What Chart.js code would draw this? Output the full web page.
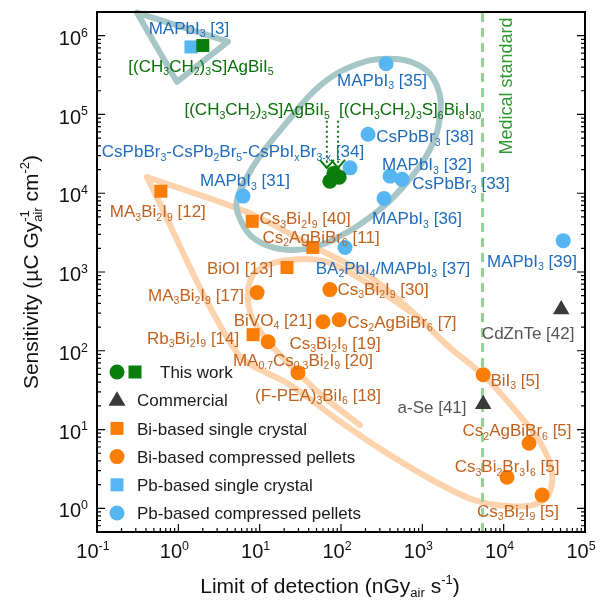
<!DOCTYPE html>
<html>
<head>
<meta charset="utf-8">
<script src="https://cdn.jsdelivr.net/npm/chart.js@4.4.0/dist/chart.umd.min.js"></script>
<style>
  body { margin: 0; background: #fff; }
  #chart { display: block; }
</style>
</head>
<body>
<canvas id="chart" width="603" height="613"></canvas>
<script>
// x = limit of detection (nGy_air s^-1), y = sensitivity (uC Gy_air^-1 cm^-2)
const thisWorkPellets = [[73, 1.42e4], [95, 1.6e4], [82, 1.8e4]];
const thisWorkCrystals = [[2.0, 7.5e5]];
const commercial = [[5.1e4, 333], [5600, 21]];
const biCrystals = [[0.61, 1.06e4], [8.1, 4.4e3], [45, 2.05e3], [21.7, 1.14e3], [8.3, 160]];
const biPellets = [[9.3, 548], [73, 598], [60, 234], [95, 248], [12.7, 130], [29.6, 52.5],
  [5600, 49.5], [2.05e4, 6.7], [1.1e4, 2.48], [2.97e4, 1.47]];
const pbCrystals = [[1.43, 7.2e5]];
const pbPellets = [[358, 4.4e5], [215, 5.6e4], [129, 2.1e4], [401, 1.65e4], [563, 1.5e4],
  [338, 8.6e3], [6.25, 9.2e3], [112, 2.05e3], [5.4e4, 2.5e3]];
const medicalStandard = 5500;

const xTickExps = [-1, 0, 1, 2, 3, 4, 5];
const yTickExps = [0, 1, 2, 3, 4, 5, 6];

// hand-drawn group outlines, in data units
const pbCrystalZone = [[0.31, 1.96e6], [4.08, 8.4e5], [0.96, 2.6e5], [0.31, 1.96e6]];
const pbPelletZone = [[5.27, 8.4e3], [8.3, 2.2e4], [21.7, 8.0e4], [55, 2.31e5], [141, 4.15e5],
  [368, 5.1e5], [937, 4.15e5], [1517, 2.31e5], [1651, 9.6e4], [1245, 3.64e4], [649, 1.38e4],
  [302, 6.25e3], [119, 3.19e3], [45, 2.05e3], [18.8, 1.94e3], [8.77, 2.6e3], [5.9, 4.4e3],
  [5.27, 8.4e3], [8.3, 2.2e4]];
const biZone = [[0.41, 1.6e4], [7.6, 5.56e3], [45, 2.11e3], [209, 930], [706, 333], [2190, 109],
  [5570, 49.5], [1.38e4, 17.7], [2.8e4, 6.93], [3.93e4, 2.87], [3.61e4, 1.51], [2.43e4, 1.12],
  [1.2e4, 1.06], [4450, 1.26], [1650, 2.02], [401, 4.73], [112, 11.4], [23.6, 36.9],
  [5.27, 94.3], [0.41, 1.6e4]];
const biPelletZone = [[171, 11.4], [63.6, 25.2], [29.6, 52.5], [12.7, 130], [8.06, 263],
  [7.19, 565], [9.02, 1015], [20.5, 1400], [63.6, 1360], [228, 693], [706, 314]];

// arrows from the compound names to this work's points
const arrowLods = [67, 92];
const arrowFrom = 8.3e4;
const arrowTo = 2.1e4;

// [text, lod, sensitivity, group]; _{} = subscript, ^{} = superscript
const pointLabels = [
  ['MAPbI_{3} [3]', 1.35, 1.26e6, 'pb'],
  ['[(CH_{3}CH_{2})_{3}S]AgBiI_{5}', 1.9, 4.15e5, 'tw'],
  ['[(CH_{3}CH_{2})_{3}S]AgBiI_{5}', 9.3, 1.17e5, 'tw'],
  ['[(CH_{3}CH_{2})_{3}S]_{6}Bi_{8}I_{30}', 706, 1.17e5, 'tw'],
  ['CsPbBr_{3}-CsPb_{2}Br_{5}-CsPbI_{x}Br_{3-x} [34]', 4.7, 3.43e4, 'pb'],
  ['MAPbI_{3} [35]', 320, 2.75e5, 'pb'],
  ['CsPbBr_{3} [38]', 1080, 5.3e4, 'pb'],
  ['MAPbI_{3} [32]', 1143, 2.34e4, 'pb'],
  ['CsPbBr_{3} [33]', 2990, 1.34e4, 'pb'],
  ['MAPbI_{3} [36]', 861, 4.8e3, 'pb'],
  ['MAPbI_{3} [31]', 6.6, 1.47e4, 'pb'],
  ['MA_{3}Bi_{2}I_{9} [12]', 0.56, 5.9e3, 'bi'],
  ['Cs_{3}Bi_{2}I_{9} [40]', 36.1, 4.8e3, 'bi'],
  ['Cs_{2}AgBiBr_{6} [11]', 56.8, 2.83e3, 'bi'],
  ['BiOI [13]', 5.74, 1.14e3, 'bi'],
  ['BA_{2}PbI_{4}/MAPbI_{3} [37]', 436, 1.14e3, 'pb'],
  ['MA_{3}Bi_{2}I_{9} [17]', 1.65, 517, 'bi'],
  ['Cs_{3}Bi_{2}I_{9} [30]', 329, 616, 'bi'],
  ['BiVO_{4} [21]', 14.6, 248, 'bi'],
  ['Cs_{2}AgBiBr_{6} [7]', 563, 234, 'bi'],
  ['Rb_{3}Bi_{2}I_{9} [14]', 1.52, 146, 'bi'],
  ['Cs_{3}Bi_{2}I_{9} [19]', 84.5, 126, 'bi'],
  ['MA_{0.7}Cs_{0.3}Bi_{2}I_{9} [20]', 34.1, 76.8, 'bi'],
  ['(F-PEA)_{3}BiI_{6} [18]', 52.2, 27.5, 'bi'],
  ['CdZnTe [42]', 2.0e4, 169, 'com'],
  ['BiI_{3} [5]', 1.38e4, 42.7, 'bi'],
  ['a-Se [41]', 1316, 19.4, 'com'],
  ['Cs_{2}AgBiBr_{6} [5]', 1.46e4, 9.86, 'bi'],
  ['Cs_{3}Bi_{2}Br_{3}I_{6} [5]', 1.1e4, 3.43, 'bi'],
  ['Cs_{3}Bi_{2}I_{9} [5]', 1.5e4, 0.94, 'bi'],
  ['MAPbI_{3} [39]', 2.23e4, 1.4e3, 'pb'],
];

const FONT = '"Liberation Sans", Arial, sans-serif';
const textColors = { pb: '#1f6cbd', bi: '#c2621f', tw: '#0b6f0b', com: '#555555' };
const GREEN = '#0a7d0a', ORANGE = '#fa7d05', SKY = '#55b6f2', DARK = '#3a3a3a';

const toXY = arr => arr.map(p => ({ x: p[0], y: p[1] }));

function parseRich(str) {
  const segs = [];
  let buf = '', i = 0;
  while (i < str.length) {
    const c = str[i];
    if ((c === '_' || c === '^') && str[i + 1] === '{') {
      if (buf) { segs.push({ k: 'n', t: buf }); buf = ''; }
      const end = str.indexOf('}', i);
      segs.push({ k: c === '_' ? 'sub' : 'sup', t: str.slice(i + 2, end) });
      i = end + 1;
    } else { buf += c; i++; }
  }
  if (buf) segs.push({ k: 'n', t: buf });
  const out = [];
  for (let j = 0; j < segs.length; j++) {
    if (segs[j].k === 'sub' && segs[j + 1] && segs[j + 1].k === 'sup') {
      out.push({ k: 'stack', sub: segs[j].t, sup: segs[j + 1].t });
      j++;
    } else out.push(segs[j]);
  }
  return out;
}

function drawRich(ctx, str, x, y, size, color, align) {
  const segs = parseRich(str);
  const small = size * 0.62;
  const fN = size + 'px ' + FONT, fS = small + 'px ' + FONT;
  let w = 0;
  segs.forEach(s => {
    if (s.k === 'n') { ctx.font = fN; s.w = ctx.measureText(s.t).width; }
    else if (s.k === 'stack') {
      ctx.font = fS;
      s.w = Math.max(ctx.measureText(s.sub).width, ctx.measureText(s.sup).width);
    } else { ctx.font = fS; s.w = ctx.measureText(s.t).width; }
    w += s.w;
  });
  let cx = align === 'left' ? x : align === 'right' ? x - w : x - w / 2;
  const base = y + size * 0.36;
  ctx.fillStyle = color;
  ctx.textAlign = 'left';
  ctx.textBaseline = 'alphabetic';
  segs.forEach(s => {
    if (s.k === 'n') { ctx.font = fN; ctx.fillText(s.t, cx, base); }
    else {
      ctx.font = fS;
      if (s.k === 'sub') ctx.fillText(s.t, cx, base + size * 0.2);
      if (s.k === 'sup') ctx.fillText(s.t, cx, base - size * 0.42);
      if (s.k === 'stack') {
        ctx.fillText(s.sub, cx, base + size * 0.2);
        ctx.fillText(s.sup, cx, base - size * 0.42);
      }
    }
    cx += s.w;
  });
}

function marker(ctx, shape, x, y, color) {
  ctx.fillStyle = color;
  ctx.beginPath();
  if (shape === 'circle') ctx.arc(x, y, 7.5, 0, Math.PI * 2);
  else if (shape === 'rect') ctx.rect(x - 6.5, y - 6.5, 13, 13);
  else { ctx.moveTo(x, y - 9); ctx.lineTo(x + 8.5, y + 5.5); ctx.lineTo(x - 8.5, y + 5.5); ctx.closePath(); }
  ctx.fill();
}

const legendRows = [
  [['circle', GREEN], ['rect', GREEN], 'This work'],
  [['triangle', DARK], null, 'Commercial'],
  [['rect', ORANGE], null, 'Bi-based single crystal'],
  [['circle', ORANGE], null, 'Bi-based compressed pellets'],
  [['rect', SKY], null, 'Pb-based single crystal'],
  [['circle', SKY], null, 'Pb-based compressed pellets'],
];

const decor = {
  id: 'decor',
  afterDatasetsDraw(chart) {
    const { ctx, chartArea: a, scales: { x, y } } = chart;
    ctx.save();

    // dotted arrows
    ctx.strokeStyle = GREEN;
    ctx.lineWidth = 2;
    arrowLods.forEach(l => {
      const px = x.getPixelForValue(l);
      const y1 = y.getPixelForValue(arrowFrom), y2 = y.getPixelForValue(arrowTo);
      ctx.setLineDash([2, 3]);
      ctx.beginPath(); ctx.moveTo(px, y1); ctx.lineTo(px, y2); ctx.stroke();
      ctx.setLineDash([]);
      ctx.beginPath();
      ctx.moveTo(px - 7, y2 - 8); ctx.lineTo(px, y2); ctx.lineTo(px + 7, y2 - 8);
      ctx.stroke();
    });

    // point labels
    pointLabels.forEach(([t, lx, ly, g]) => {
      drawRich(ctx, t, x.getPixelForValue(lx), y.getPixelForValue(ly), 17, textColors[g], 'center');
    });

    // medical standard label
    ctx.save();
    ctx.translate(x.getPixelForValue(medicalStandard) + 23, y.getPixelForValue(2.3e5));
    ctx.rotate(-Math.PI / 2);
    drawRich(ctx, 'Medical standard', 0, 0, 18, '#2f9a2f', 'center');
    ctx.restore();

    // legend
    legendRows.forEach((row, i) => {
      const ry = a.bottom - 19 - (legendRows.length - 1 - i) * 28.2;
      marker(ctx, row[0][0], a.left + 20, ry, row[0][1]);
      if (row[1]) marker(ctx, row[1][0], a.left + 38, ry, row[1][1]);
      drawRich(ctx, row[2], a.left + (row[1] ? 63 : 40), ry, 17, '#1a1a1a', 'left');
    });

    // frame and inward ticks
    ctx.strokeStyle = '#000';
    ctx.lineWidth = 2;
    ctx.strokeRect(a.left, a.top, a.right - a.left, a.bottom - a.top);
    ctx.lineWidth = 1.2;
    const decades = (s) => {
      const out = [];
      for (let e = Math.floor(Math.log10(s.min)); e <= Math.floor(Math.log10(s.max)); e++) {
        for (let k = 1; k <= 9; k++) {
          const v = k * Math.pow(10, e);
          if (v >= s.min * 0.999 && v <= s.max * 1.001) out.push([v, k === 1]);
        }
      }
      return out;
    };
    ctx.beginPath();
    decades(x).forEach(([v, major]) => {
      const px = x.getPixelForValue(v), len = major ? 8 : 4;
      ctx.moveTo(px, a.bottom); ctx.lineTo(px, a.bottom - len);
    });
    decades(y).forEach(([v, major]) => {
      const py = y.getPixelForValue(v), len = major ? 8 : 4;
      ctx.moveTo(a.left, py); ctx.lineTo(a.left + len, py);
      ctx.moveTo(a.right, py); ctx.lineTo(a.right - len, py);
    });
    ctx.stroke();

    // tick labels
    xTickExps.forEach(e => {
      drawRich(ctx, '10^{' + (e < 0 ? '-' + (-e) : e) + '}', x.getPixelForValue(Math.pow(10, e)) - 4, a.bottom + 19, 20, '#111', 'center');
    });
    yTickExps.forEach(e => {
      drawRich(ctx, '10^{' + e + '}', a.left - 9, y.getPixelForValue(Math.pow(10, e)) + 2, 20, '#111', 'right');
    });

    // axis titles
    drawRich(ctx, 'Limit of detection (nGy_{air} s^{-1})', 330, a.bottom + 53, 21, '#111', 'center');
    ctx.save();
    ctx.translate(30, (a.top + a.bottom) / 2);
    ctx.rotate(-Math.PI / 2);
    drawRich(ctx, 'Sensitivity (\u00b5C Gy_{air}^{-1} cm^{-2})', 0, 0, 21, '#111', 'center');
    ctx.restore();

    ctx.restore();
  }
};

const zone = (data, color, tension, order) => ({
  data: toXY(data), showLine: true, borderColor: color, borderWidth: 6,
  pointRadius: 0, tension: tension, borderJoinStyle: 'round', borderCapStyle: 'round',
  order: order, clip: false
});
const pts = (data, style, radius, color) => ({
  data: toXY(data), pointStyle: style, pointRadius: radius, pointBackgroundColor: color,
  pointBorderWidth: 0, borderColor: color, showLine: false, order: 0, clip: false
});

new Chart(document.getElementById('chart'), {
  type: 'scatter',
  data: {
    datasets: [
      pts(thisWorkPellets, 'circle', 7.5, GREEN),
      pts(thisWorkCrystals, 'rect', 9.2, GREEN),
      pts(commercial, 'triangle', 9.5, DARK),
      pts(biCrystals, 'rect', 9.2, ORANGE),
      pts(biPellets, 'circle', 7.5, ORANGE),
      pts(pbCrystals, 'rect', 9.2, SKY),
      pts(pbPellets, 'circle', 7.5, SKY),
      {
        data: [{ x: medicalStandard, y: 0.5 }, { x: medicalStandard, y: 2e6 }],
        showLine: true, borderColor: '#93d293', borderWidth: 3, borderDash: [9, 6],
        pointRadius: 0, order: 5
      },
      zone(pbCrystalZone, '#a6c6c7', 0, 8),
      zone(pbPelletZone, '#a6c6c7', 0.4, 8),
      zone(biZone, '#fcd3ad', 0.3, 9),
      zone(biPelletZone, '#fcd3ad', 0.35, 9),
    ]
  },
  options: {
    responsive: false,
    animation: false,
    events: [],
    layout: { padding: { top: 12, right: 18, left: 0, bottom: 0 } },
    plugins: { legend: { display: false }, tooltip: { enabled: false } },
    scales: {
      x: {
        type: 'logarithmic', min: 0.1, max: 1e5,
        ticks: { display: false }, grid: { display: false }, border: { display: false },
        afterFit: s => { s.height = 81; }
      },
      y: {
        type: 'logarithmic', min: 0.5, max: 2e6,
        ticks: { display: false }, grid: { display: false }, border: { display: false },
        afterFit: s => { s.width = 97; }
      }
    }
  },
  plugins: [decor]
});
</script>
</body>
</html>
